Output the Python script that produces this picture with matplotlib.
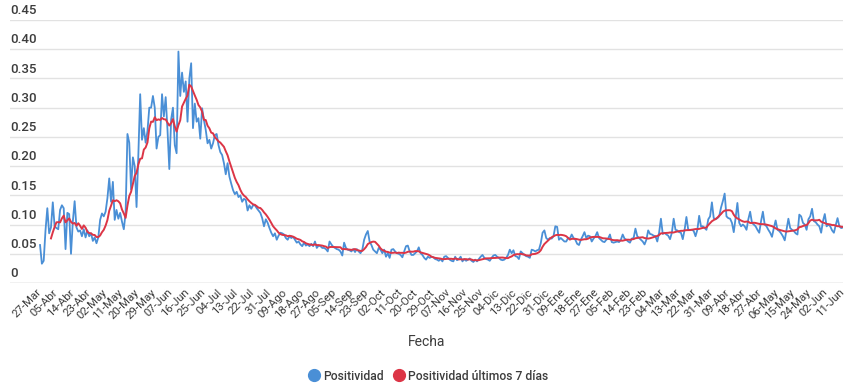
import numpy as np
import pandas as pd
import matplotlib
matplotlib.use("Agg")
import matplotlib.pyplot as plt
from matplotlib.lines import Line2D
import matplotlib.transforms as mtransforms

# daily positivity, 27-Mar-2020 .. 11-Jun-2021
pos_mar20 = [0.065, 0.033, 0.038, 0.09, 0.128]
pos_abr20 = [0.085, 0.095, 0.138, 0.097, 0.094, 0.092, 0.125, 0.133, 0.128, 0.058,
             0.12, 0.118, 0.05, 0.105, 0.14, 0.095, 0.088, 0.09, 0.08, 0.092,
             0.078, 0.09, 0.08, 0.085, 0.072, 0.078, 0.068, 0.078, 0.108, 0.119]
pos_may20 = [0.114, 0.122, 0.145, 0.179, 0.139, 0.173, 0.108, 0.125, 0.11, 0.12,
             0.105, 0.092, 0.12, 0.255, 0.24, 0.16, 0.215, 0.2, 0.13, 0.22,
             0.323, 0.245, 0.265, 0.24, 0.26, 0.30, 0.30, 0.32, 0.30, 0.23, 0.25]
pos_jun20 = [0.253, 0.323, 0.285, 0.318, 0.262, 0.195, 0.28, 0.30, 0.236, 0.222,
             0.396, 0.32, 0.36, 0.327, 0.345, 0.276, 0.35, 0.376, 0.265, 0.307,
             0.276, 0.282, 0.247, 0.299, 0.279, 0.262, 0.239, 0.245, 0.23, 0.239]
pos_jul20 = [0.253, 0.255, 0.236, 0.224, 0.219, 0.205, 0.186, 0.205, 0.182, 0.17,
             0.159, 0.152, 0.156, 0.147, 0.15, 0.139, 0.144, 0.142, 0.124, 0.133,
             0.127, 0.133, 0.133, 0.128, 0.124, 0.12, 0.111, 0.097, 0.109, 0.103, 0.094]
pos_ago20 = [0.086, 0.08, 0.085, 0.074, 0.081, 0.086, 0.085, 0.083, 0.077, 0.074,
             0.08, 0.077, 0.079, 0.074, 0.069, 0.071, 0.066, 0.063, 0.069, 0.064,
             0.066, 0.063, 0.067, 0.063, 0.071, 0.06, 0.064, 0.063, 0.06, 0.06, 0.058]
pos_sep20 = [0.054, 0.071, 0.066, 0.062, 0.06, 0.058, 0.057, 0.054, 0.047, 0.069,
             0.06, 0.057, 0.056, 0.054, 0.058, 0.053, 0.058, 0.054, 0.051, 0.057,
             0.074, 0.083, 0.089, 0.071, 0.065, 0.057, 0.054, 0.051, 0.06, 0.057]
pos_oct20 = [0.051, 0.057, 0.045, 0.051, 0.043, 0.057, 0.058, 0.054, 0.051, 0.05,
             0.048, 0.044, 0.054, 0.063, 0.064, 0.054, 0.048, 0.048, 0.051, 0.054,
             0.061, 0.051, 0.048, 0.043, 0.04, 0.045, 0.043, 0.045, 0.044, 0.041, 0.04]
pos_nov20 = [0.038, 0.041, 0.037, 0.045, 0.046, 0.043, 0.04, 0.038, 0.037, 0.045,
             0.039, 0.041, 0.045, 0.037, 0.041, 0.038, 0.04, 0.042, 0.038, 0.036,
             0.04, 0.037, 0.041, 0.045, 0.048, 0.043, 0.041, 0.04, 0.038, 0.043]
pos_dic20 = [0.047, 0.048, 0.045, 0.043, 0.04, 0.039, 0.04, 0.043, 0.048, 0.057,
             0.051, 0.056, 0.046, 0.045, 0.041, 0.054, 0.051, 0.048, 0.046, 0.045,
             0.043, 0.057, 0.056, 0.054, 0.056, 0.057, 0.068, 0.086, 0.09, 0.077, 0.074]
pos_ene21 = [0.077, 0.076, 0.08, 0.097, 0.096, 0.074, 0.077, 0.074, 0.071, 0.071,
             0.077, 0.076, 0.083, 0.077, 0.074, 0.067, 0.065, 0.074, 0.08, 0.087,
             0.077, 0.081, 0.08, 0.071, 0.076, 0.08, 0.087, 0.077, 0.074, 0.071, 0.07]
pos_feb21 = [0.074, 0.076, 0.083, 0.07, 0.069, 0.07, 0.071, 0.07, 0.074, 0.083,
             0.076, 0.074, 0.071, 0.069, 0.076, 0.077, 0.093, 0.08, 0.077, 0.074,
             0.071, 0.066, 0.074, 0.09, 0.084, 0.083, 0.081, 0.08]
pos_mar21 = [0.071, 0.086, 0.11, 0.084, 0.086, 0.083, 0.081, 0.075, 0.086, 0.11,
             0.091, 0.09, 0.087, 0.086, 0.075, 0.091, 0.113, 0.091, 0.091, 0.091,
             0.089, 0.08, 0.091, 0.115, 0.097, 0.097, 0.094, 0.091, 0.109, 0.114, 0.138]
pos_abr21 = [0.111, 0.109, 0.111, 0.114, 0.129, 0.14, 0.153, 0.114, 0.111, 0.11,
             0.103, 0.087, 0.111, 0.137, 0.103, 0.097, 0.1, 0.097, 0.091, 0.109,
             0.122, 0.103, 0.1, 0.097, 0.091, 0.086, 0.106, 0.122, 0.1, 0.097]
pos_may21 = [0.091, 0.086, 0.079, 0.094, 0.107, 0.091, 0.089, 0.085, 0.08, 0.073,
             0.091, 0.11, 0.094, 0.091, 0.089, 0.085, 0.083, 0.117, 0.114, 0.103,
             0.1, 0.091, 0.109, 0.114, 0.127, 0.106, 0.104, 0.1, 0.097, 0.086, 0.106]
pos_jun21 = [0.118, 0.097, 0.1, 0.097, 0.09, 0.086, 0.099, 0.111, 0.097, 0.094, 0.095]

tick_labels = ["27-Mar", "05-Abr", "14-Abr", "23-Abr", "02-May", "11-May", "20-May",
               "29-May", "07-Jun", "16-Jun", "25-Jun", "04-Jul", "13-Jul", "22-Jul",
               "31-Jul", "09-Ago", "18-Ago", "27-Ago", "05-Sep", "14-Sep", "23-Sep",
               "02-Oct", "11-Oct", "20-Oct", "29-Oct", "07-Nov", "16-Nov", "25-Nov",
               "04-Dic", "13-Dic", "22-Dic", "31-Dic", "09-Ene", "18-Ene", "27-Ene",
               "05-Feb", "14-Feb", "23-Feb", "04-Mar", "13-Mar", "22-Mar", "31-Mar",
               "09-Abr", "18-Abr", "27-Abr", "06-May", "15-May", "24-May", "02-Jun",
               "11-Jun"]
y_ticks = [0, 0.05, 0.10, 0.15, 0.20, 0.25, 0.30, 0.35, 0.40, 0.45]
y_tick_labels = ["0", "0.05", "0.10", "0.15", "0.20", "0.25", "0.30", "0.35", "0.40", "0.45"]

daily = (pos_mar20 + pos_abr20 + pos_may20 + pos_jun20 + pos_jul20 + pos_ago20 +
         pos_sep20 + pos_oct20 + pos_nov20 + pos_dic20 + pos_ene21 + pos_feb21 +
         pos_mar21 + pos_abr21 + pos_may21 + pos_jun21)
serie = pd.Series(daily)
media7 = serie.rolling(7).mean()
x = np.arange(len(serie))

BLUE = "#4a8fd6"
RED = "#dc3546"
TXT = "#3c3c3c"

plt.rcParams["font.family"] = ["Roboto", "DejaVu Sans"]

fig = plt.figure(figsize=(8.5, 3.88), dpi=100)
ax = fig.add_axes([10 / 850, 1 - 283 / 388, 833 / 850, 263 / 388])

ax.plot(x, serie, color=BLUE, lw=1.3, zorder=3)
ax.plot(x, media7, color=RED, lw=1.4, zorder=4)

ax.set_ylim(0, 0.45)
ax.set_xlim(-16.5, len(serie) - 1)
ax.set_yticks(y_ticks)
ax.tick_params(axis="y", length=0, labelleft=False)
ax.grid(axis="y", color="#e2e2e2", lw=1)
ax.axhline(0, color="#cfcfcf", lw=1, zorder=1)
for s in ax.spines.values():
    s.set_visible(False)

# y labels sit above the gridlines at the left edge
trans = mtransforms.blended_transform_factory(ax.transAxes, ax.transData)
offset = mtransforms.offset_copy(trans, fig=fig, x=0, y=2, units="points")
for v, lab in zip(y_ticks, y_tick_labels):
    ax.text(0, v, lab, transform=offset, ha="left", va="bottom",
            fontsize=9.5, color=TXT, fontweight="medium")

ax.set_xticks(np.arange(0, len(serie), 9))
ax.set_xticklabels(tick_labels, rotation=45, ha="right", va="top",
                   rotation_mode="anchor", fontsize=8.2, color=TXT)
ax.tick_params(axis="x", length=0, pad=3)
shift = mtransforms.ScaledTranslation(-4 / 100, 0, fig.dpi_scale_trans)
for lab in ax.get_xticklabels():
    lab.set_transform(lab.get_transform() + shift)

ax.set_xlabel("Fecha", fontsize=10, color=TXT, labelpad=10)

handles = [Line2D([], [], color=BLUE, marker="o", ls="", markersize=8.5),
           Line2D([], [], color=RED, marker="o", ls="", markersize=8.5)]
fig.legend(handles, ["Positividad", "Positividad últimos 7 días"], loc="center",
           bbox_to_anchor=(0.503, 12 / 388), ncol=2, frameon=False,
           handletextpad=0.2, columnspacing=0.6, handlelength=1.2,
           labelcolor=TXT, prop={"weight": "medium", "size": 8.7})

fig.savefig("out.png", dpi=100)
